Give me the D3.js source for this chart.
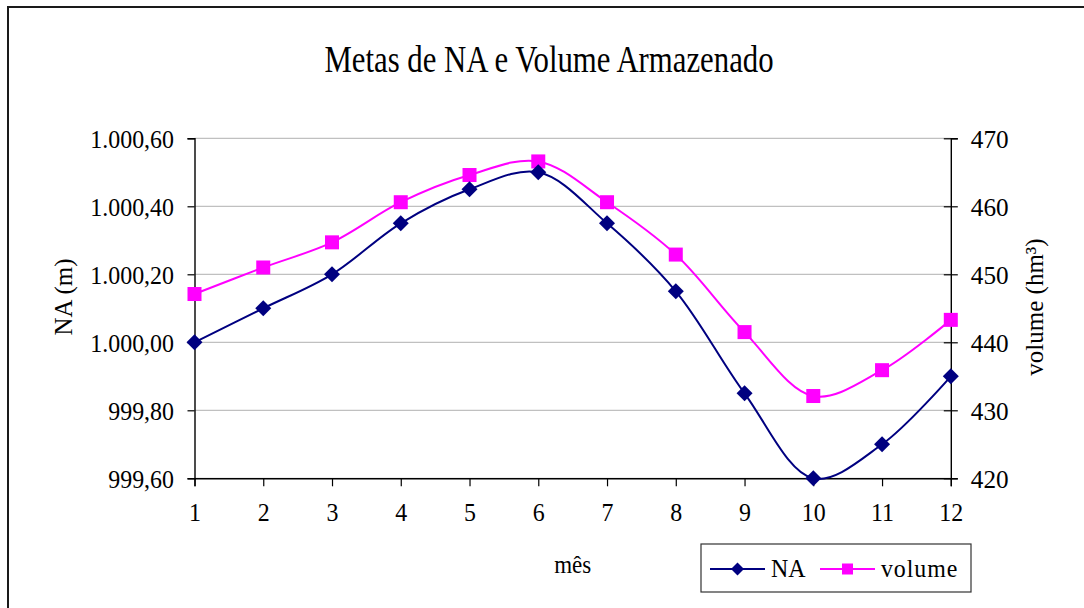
<!DOCTYPE html>
<html>
<head>
<meta charset="utf-8">
<script src="https://cdn.jsdelivr.net/npm/d3@7"></script>
<style>
  html, body { margin: 0; padding: 0; background: #fff; }
  svg { display: block; }
  text { font-family: "Liberation Serif", "Times New Roman", serif; fill: #000; }
</style>
</head>
<body>
<svg id="chart" width="1084" height="608"></svg>
<script>
// Monthly targets: water level (NA) and stored volume
const months = [1, 2, 3, 4, 5, 6, 7, 8, 9, 10, 11, 12];
const naValues = [1000.00, 1000.10, 1000.20, 1000.35, 1000.45, 1000.50,
                  1000.35, 1000.15, 999.85, 999.60, 999.70, 999.90];
const volumeValues = [447.1, 451.0, 454.7, 460.6, 464.6, 466.6,
                      460.6, 452.9, 441.5, 432.1, 435.9, 443.3];
const naTicks = [999.6, 999.8, 1000.0, 1000.2, 1000.4, 1000.6];
const volumeTicks = [420, 430, 440, 450, 460, 470];

const titleText = "Metas de NA e Volume Armazenado";
const xTitle = "mês";
const yLeftTitle = "NA (m)";
const yRightTitle = "volume (hm³)";
const seriesNames = ["NA", "volume"];

const NAVY = "#000080", MAGENTA = "#ff00ff";
const SX = 0.92; // horizontal squeeze of the serif lettering

const svg = d3.select("#chart");
const plot = { left: 194.5, right: 950.8, top: 138.3, bottom: 478.3 };

// Pt-BR number formatting: "1.000,60"
const ptBR = d3.formatLocale({ decimal: ",", thousands: ".", grouping: [3], currency: ["R$", ""] });
const fmtNA = ptBR.format(",.2f");
const fmtVol = ptBR.format("d");

const x = d3.scaleLinear().domain([1, 12]).range([plot.left, plot.right]);
const yNA = d3.scaleLinear().domain([999.6, 1000.6]).range([plot.bottom, plot.top]);
const yVol = d3.scaleLinear().domain([420, 470]).range([plot.bottom, plot.top]);

// Outer frame
svg.append("rect")
  .attr("x", 8).attr("y", 7).attr("width", 1100).attr("height", 700)
  .attr("fill", "none").attr("stroke", "#1a1a1a").attr("stroke-width", 2);

// Title
svg.append("text")
  .attr("transform", `translate(549,72) scale(0.81,1)`)
  .attr("text-anchor", "middle")
  .style("font-size", "38px")
  .text(titleText);

// Gridlines
svg.append("g").selectAll("line").data(naTicks).join("line")
  .attr("x1", plot.left).attr("x2", plot.right)
  .attr("y1", d => yNA(d)).attr("y2", d => yNA(d))
  .attr("stroke", "#c0c0c0").attr("stroke-width", 1.3);

// Left axis
const gLeft = svg.append("g").attr("transform", `translate(${plot.left},0)`)
  .call(d3.axisLeft(yNA).tickValues(naTicks).tickFormat(fmtNA).tickSizeOuter(0).tickSize(7));
// Right axis
const gRight = svg.append("g").attr("transform", `translate(${plot.right},0)`)
  .call(d3.axisRight(yVol).tickValues(volumeTicks).tickFormat(fmtVol).tickSizeOuter(0).tickSize(7));
// Bottom axis
const gBottom = svg.append("g").attr("transform", `translate(0,${plot.bottom})`)
  .call(d3.axisBottom(x).tickValues(months).tickFormat(d3.format("d")).tickSizeOuter(0).tickSize(8));

[gLeft, gRight, gBottom].forEach(g => {
  g.select(".domain").attr("stroke", "#000").attr("stroke-width", 1.4);
  g.selectAll(".tick line").attr("stroke", "#000").attr("stroke-width", 1.2);
  g.selectAll(".tick text").style("font-size", "26px").attr("fill", "#000");
});
// right axis ticks cross the axis line
gRight.selectAll(".tick line").attr("x1", -7).attr("x2", 7);

gLeft.selectAll(".tick text")
  .attr("x", null).attr("dy", null)
  .attr("text-anchor", "end")
  .attr("transform", `translate(-20.5,9) scale(${SX},1)`);
gRight.selectAll(".tick text")
  .attr("x", null).attr("dy", null)
  .attr("text-anchor", "start")
  .attr("transform", `translate(20,9) scale(0.97,1)`);
gBottom.selectAll(".tick text")
  .attr("y", null).attr("dy", null)
  .attr("text-anchor", "middle")
  .attr("transform", `translate(0,43) scale(${SX},1)`);

// Axis titles
svg.append("text")
  .attr("transform", `translate(${(plot.left + plot.right) / 2},573) scale(${SX},1)`)
  .attr("text-anchor", "middle").style("font-size", "25px")
  .text(xTitle);
svg.append("text")
  .attr("transform", `translate(72,297) rotate(-90)`)
  .attr("text-anchor", "middle").style("font-size", "25px")
  .text(yLeftTitle);
svg.append("text")
  .attr("transform", `translate(1043,307) rotate(-90)`)
  .attr("text-anchor", "middle").style("font-size", "25px")
  .text(yRightTitle);

// Smoothed series lines
const curve = d3.curveCatmullRom.alpha(0.5);
const lineNA = d3.line().x((d, i) => x(months[i])).y(d => yNA(d)).curve(curve);
const lineVol = d3.line().x((d, i) => x(months[i])).y(d => yVol(d)).curve(curve);

svg.append("path").datum(volumeValues).attr("d", lineVol)
  .attr("fill", "none").attr("stroke", MAGENTA).attr("stroke-width", 2);
svg.append("path").datum(naValues).attr("d", lineNA)
  .attr("fill", "none").attr("stroke", NAVY).attr("stroke-width", 2);

function drawDiamond(sel, cx, cy, r) {
  sel.append("path")
    .attr("d", `M${cx},${cy - r}L${cx + r},${cy}L${cx},${cy + r}L${cx - r},${cy}Z`)
    .attr("fill", NAVY);
}
function drawSquare(sel, cx, cy, s) {
  sel.append("rect").attr("x", cx - s / 2).attr("y", cy - s / 2)
    .attr("width", s).attr("height", s).attr("fill", MAGENTA);
}

const gMarkers = svg.append("g");
volumeValues.forEach((v, i) => drawSquare(gMarkers, x(months[i]), yVol(v), 14));
naValues.forEach((v, i) => drawDiamond(gMarkers, x(months[i]), yNA(v), 8));

// Legend
const lg = svg.append("g");
lg.append("rect").attr("x", 701).attr("y", 544).attr("width", 270).attr("height", 48)
  .attr("fill", "#fff").attr("stroke", "#333").attr("stroke-width", 1.2);
lg.append("line").attr("x1", 710).attr("x2", 765).attr("y1", 569).attr("y2", 569)
  .attr("stroke", NAVY).attr("stroke-width", 2);
drawDiamond(lg, 737.5, 569, 6.5);
lg.append("text").attr("transform", `translate(771,577) scale(${SX},1)`)
  .style("font-size", "26px").text(seriesNames[0]);
lg.append("line").attr("x1", 820).attr("x2", 875).attr("y1", 569).attr("y2", 569)
  .attr("stroke", MAGENTA).attr("stroke-width", 2);
drawSquare(lg, 847.5, 569, 11);
lg.append("text").attr("transform", `translate(881,577) scale(${SX},1)`)
  .style("font-size", "26px").style("letter-spacing", "1px").text(seriesNames[1]);
</script>
</body>
</html>
